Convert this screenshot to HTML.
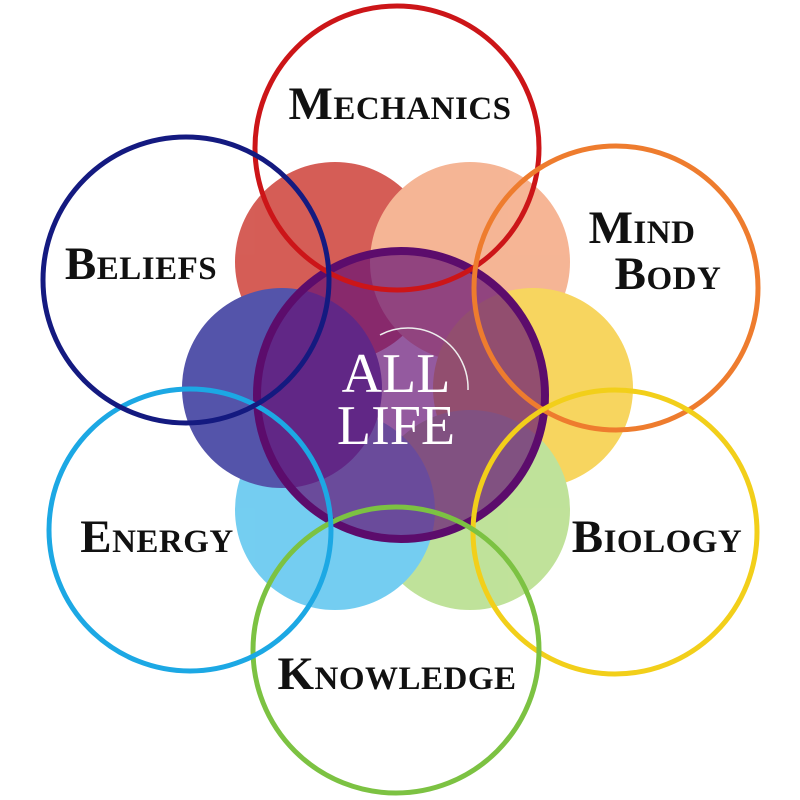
<!DOCTYPE html>
<html><head><style>body{margin:0;background:#fff}svg{display:block}
text{font-family:"Liberation Serif",serif;font-weight:bold;font-variant:small-caps;fill:#111}</style></head>
<body>
<svg width="800" height="800" viewBox="0 0 800 800">
<g opacity="0.82">
<circle cx="335" cy="262" r="100" fill="#cc3a32"/>
<circle cx="470" cy="262" r="100" fill="#f4a57e"/>
<circle cx="533" cy="388" r="100" fill="#f6cd3c"/>
<circle cx="470" cy="510" r="100" fill="#b2dc84"/>
<circle cx="335" cy="510" r="100" fill="#56c3ee"/>
<circle cx="282" cy="388" r="100" fill="#2f2f98"/>
</g>
<circle cx="401" cy="395" r="144" fill="#661476" fill-opacity="0.7" stroke="#5c0c6c" stroke-width="8"/>
<g fill="none" stroke-width="5">
<circle cx="397" cy="148" r="142" stroke="#cc1518"/>
<circle cx="616" cy="288" r="142" stroke="#ee7c2e"/>
<circle cx="615" cy="532" r="142" stroke="#f2cf1a"/>
<circle cx="396" cy="650" r="143" stroke="#7cc242"/>
<circle cx="190" cy="530" r="141" stroke="#1ca8e4"/>
<circle cx="186" cy="280" r="143" stroke="#141a80"/>
</g>
<path d="M380 335 A60 60 0 0 1 468 390" fill="none" stroke="#eee" stroke-width="1.5"/>
<text x="396" y="392" text-anchor="middle" style="fill:#fff;font-weight:normal;font-size:56px;font-variant:normal">ALL</text>
<text x="396" y="444" text-anchor="middle" style="fill:#fff;font-weight:normal;font-size:56px;font-variant:normal">LIFE</text>
<g font-size="47" style="letter-spacing:0.5px">
<text x="400" y="119" text-anchor="middle">Mechanics</text>
<text x="642" y="243" text-anchor="middle">Mind</text>
<text x="668" y="289" text-anchor="middle">Body</text>
<text x="141" y="279" text-anchor="middle">Beliefs</text>
<text x="157" y="552" text-anchor="middle">Energy</text>
<text x="657" y="552" text-anchor="middle">Biology</text>
<text x="397" y="689" text-anchor="middle">Knowledge</text>
</g>
</svg>
</body></html>
